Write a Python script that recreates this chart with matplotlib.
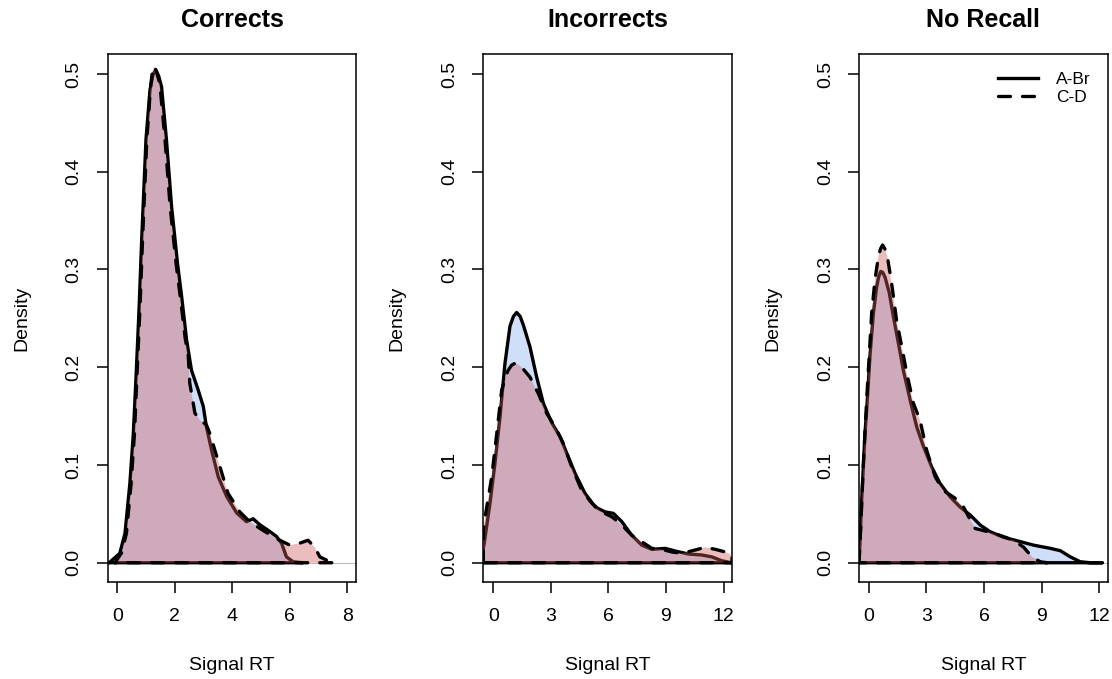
import numpy as np
import matplotlib.pyplot as plt
from matplotlib.lines import Line2D

plt.rcParams['font.family'] = ['Liberation Sans', 'DejaVu Sans']

titles = ['Corrects', 'Incorrects', 'No Recall']
series_names = ['A-Br', 'C-D']
xticks_list = [[0, 2, 4, 6, 8], [0, 3, 6, 9, 12], [0, 3, 6, 9, 12]]
xlims = [(-0.33, 8.31), (-0.52, 12.44), (-0.52, 12.45)]
yticks = [0.0, 0.1, 0.2, 0.3, 0.4, 0.5]

# density curves (x = Signal RT, y = density)
cor_abr_x = [-0.28, 0.09, 0.27, 0.44, 0.56, 0.67, 0.76, 0.85, 1.0, 1.14, 1.24, 1.34, 1.44, 1.54, 1.71, 1.89,
             2.1, 2.24, 2.41, 2.58, 2.81, 2.99, 3.10, 3.28, 3.51, 3.80, 4.15, 4.49, 4.72, 4.95, 5.30, 5.53,
             5.71, 5.88, 6.11, 6.45]
cor_abr_y = [0.0, 0.0096, 0.03, 0.081, 0.132, 0.20, 0.26, 0.33, 0.433, 0.484, 0.499, 0.504, 0.498, 0.487,
             0.433, 0.364, 0.305, 0.272, 0.228, 0.197, 0.177, 0.160, 0.139, 0.115, 0.088, 0.068, 0.051,
             0.042, 0.045, 0.039, 0.032, 0.027, 0.020, 0.006, 0.001, 0.0]
cor_cd_x = [-0.08, 0.15, 0.32, 0.48, 0.60, 0.70, 0.79, 0.88, 1.03, 1.16, 1.22, 1.28, 1.36, 1.48, 1.66, 1.84,
            2.05, 2.20, 2.36, 2.47, 2.52, 2.70, 2.87, 3.10, 3.22, 3.57, 3.85, 4.26, 4.6, 5.07, 5.65, 6.0,
            6.34, 6.63, 6.86, 7.04, 7.39, 7.56]
cor_cd_y = [0.0, 0.01, 0.03, 0.08, 0.132, 0.20, 0.26, 0.33, 0.433, 0.487, 0.502, 0.508, 0.503, 0.49, 0.433,
            0.364, 0.305, 0.27, 0.23, 0.211, 0.184, 0.153, 0.146, 0.141, 0.132, 0.098, 0.071, 0.052, 0.042,
            0.033, 0.023, 0.018, 0.020, 0.023, 0.016, 0.006, 0.001, 0.0]

inc_abr_x = [-0.52, -0.47, -0.17, 0.09, 0.35, 0.61, 0.87, 1.05, 1.22, 1.40, 1.57, 1.91, 2.26, 2.61, 3.05,
             3.48, 3.83, 4.26, 4.78, 5.31, 5.83, 6.26, 6.70, 7.22, 7.74, 8.26, 8.96, 9.48, 10.17, 10.87,
             11.39, 11.91, 12.4]
inc_abr_y = [0.015, 0.020, 0.061, 0.102, 0.149, 0.204, 0.242, 0.252, 0.256, 0.252, 0.243, 0.221, 0.190,
             0.163, 0.143, 0.129, 0.112, 0.0915, 0.071, 0.057, 0.052, 0.0505, 0.042, 0.028, 0.018, 0.0137,
             0.0147, 0.012, 0.0089, 0.0079, 0.006, 0.002, 0.0]
inc_cd_x = [-0.52, -0.4, -0.08, 0.18, 0.44, 0.75, 0.95, 1.13, 1.30, 1.48, 1.91, 2.35, 2.78, 3.22, 3.65,
            4.09, 4.61, 5.13, 5.65, 6.18, 6.70, 7.22, 7.74, 8.26, 8.78, 9.31, 9.83, 10.52, 11.04, 11.57,
            12.09, 12.44]
inc_cd_y = [0.035, 0.05, 0.088, 0.132, 0.177, 0.196, 0.202, 0.204, 0.203, 0.200, 0.190, 0.173, 0.153,
            0.139, 0.122, 0.098, 0.074, 0.061, 0.052, 0.047, 0.0386, 0.028, 0.0215, 0.0147, 0.0137, 0.011,
            0.0096, 0.013, 0.0158, 0.0137, 0.011, 0.008]

nr_abr_x = [-0.52, -0.47, -0.38, -0.21, -0.12, 0.05, 0.23, 0.40, 0.50, 0.61, 0.72, 0.84, 1.06, 1.27, 1.53,
            1.79, 2.2, 2.49, 2.84, 3.27, 3.71, 4.23, 4.75, 5.28, 5.80, 6.32, 7.02, 7.72, 8.58, 9.46, 9.98,
            10.50, 11.02, 11.54, 12.16]
nr_abr_y = [0.0, 0.02, 0.064, 0.132, 0.156, 0.211, 0.255, 0.282, 0.292, 0.298, 0.297, 0.292, 0.276, 0.252,
            0.225, 0.197, 0.162, 0.139, 0.119, 0.098, 0.081, 0.0675, 0.057, 0.0488, 0.0386, 0.0317, 0.026,
            0.0225, 0.018, 0.0147, 0.0123, 0.006, 0.001, 0.0, 0.0]
nr_cd_x = [-0.52, -0.42, -0.30, -0.12, 0.14, 0.31, 0.49, 0.60, 0.71, 0.83, 0.96, 1.18, 1.44, 1.71, 1.97,
           2.32, 2.66, 3.01, 3.45, 3.88, 4.49, 4.93, 5.28, 5.54, 6.15, 6.84, 7.54, 8.06, 8.50, 8.93, 9.3]
nr_cd_y = [0.0, 0.04, 0.098, 0.167, 0.255, 0.289, 0.313, 0.321, 0.325, 0.321, 0.313, 0.286, 0.248, 0.221,
           0.194, 0.163, 0.146, 0.115, 0.088, 0.074, 0.066, 0.057, 0.044, 0.035, 0.032, 0.028, 0.023,
           0.016, 0.006, 0.001, 0.0]

panels = [
    [(cor_abr_x, cor_abr_y), (cor_cd_x, cor_cd_y)],
    [(inc_abr_x, inc_abr_y), (inc_cd_x, inc_cd_y)],
    [(nr_abr_x, nr_abr_y), (nr_cd_x, nr_cd_y)],
]

fills = [(100/255, 149/255, 237/255, 0.3), (205/255, 92/255, 92/255, 0.4)]
styles = ['-', (0, (3.6, 3.6))]
lw = 2.4

W, H = 1112, 679
fig = plt.figure(figsize=(W / 100, H / 100), dpi=100)
lefts = [107.7, 483.3, 859.0]
top_px, bot_px, width_px = 54.3, 581.7, 248.7

for i in range(3):
    ax = fig.add_axes([lefts[i] / W, 1 - bot_px / H, width_px / W, (bot_px - top_px) / H])
    ax.axhline(0, color='#bebebe', lw=0.8, zorder=1)
    for j, (x, y) in enumerate(panels[i]):
        px = np.r_[x[0], x, x[-1], x[0]]
        py = np.r_[0, y, 0, 0]
        ax.fill(px, py, color=fills[j], lw=0, zorder=2 + 2 * j)
        ax.plot(px, py, color='black', lw=lw, ls=styles[j], solid_joinstyle='round',
                solid_capstyle='round', dash_capstyle='round', zorder=3 + 2 * j)
    ax.set_xlim(*xlims[i])
    ax.set_ylim(-0.0194, 0.5201)
    ax.set_xticks(xticks_list[i])
    ax.set_yticks(yticks)
    ax.set_yticklabels(['%.1f' % v for v in yticks], rotation=90, va='center')
    ax.tick_params(direction='out', length=8, width=1.1, labelsize=14, color='black')
    ax.tick_params(axis='x', pad=11)
    ax.tick_params(axis='y', pad=10)
    for s in ax.spines.values():
        s.set_linewidth(1.1)
    cx = (lefts[i] + width_px / 2) / W
    fig.text(cx, 1 - 20 / H, titles[i], ha='center', va='center', fontsize=18, fontweight='bold')
    fig.text(cx, 1 - 665 / H, 'Signal RT', ha='center', va='center', fontsize=14)
    fig.text((lefts[i] - 86) / W, 1 - 318 / H, 'Density', ha='center', va='center',
             rotation=90, fontsize=14)

    if i == 2:
        handles = [Line2D([], [], color='black', lw=lw, ls=styles[0]),
                   Line2D([], [], color='black', lw=lw, ls=styles[1], dash_capstyle='round')]
        ax.legend(handles, series_names, loc='upper right', frameon=False, fontsize=12.5,
                  handlelength=2.3, handletextpad=1.0, labelspacing=0.2, borderpad=0,
                  borderaxespad=1.0)

fig.savefig('out.png', dpi=100)
